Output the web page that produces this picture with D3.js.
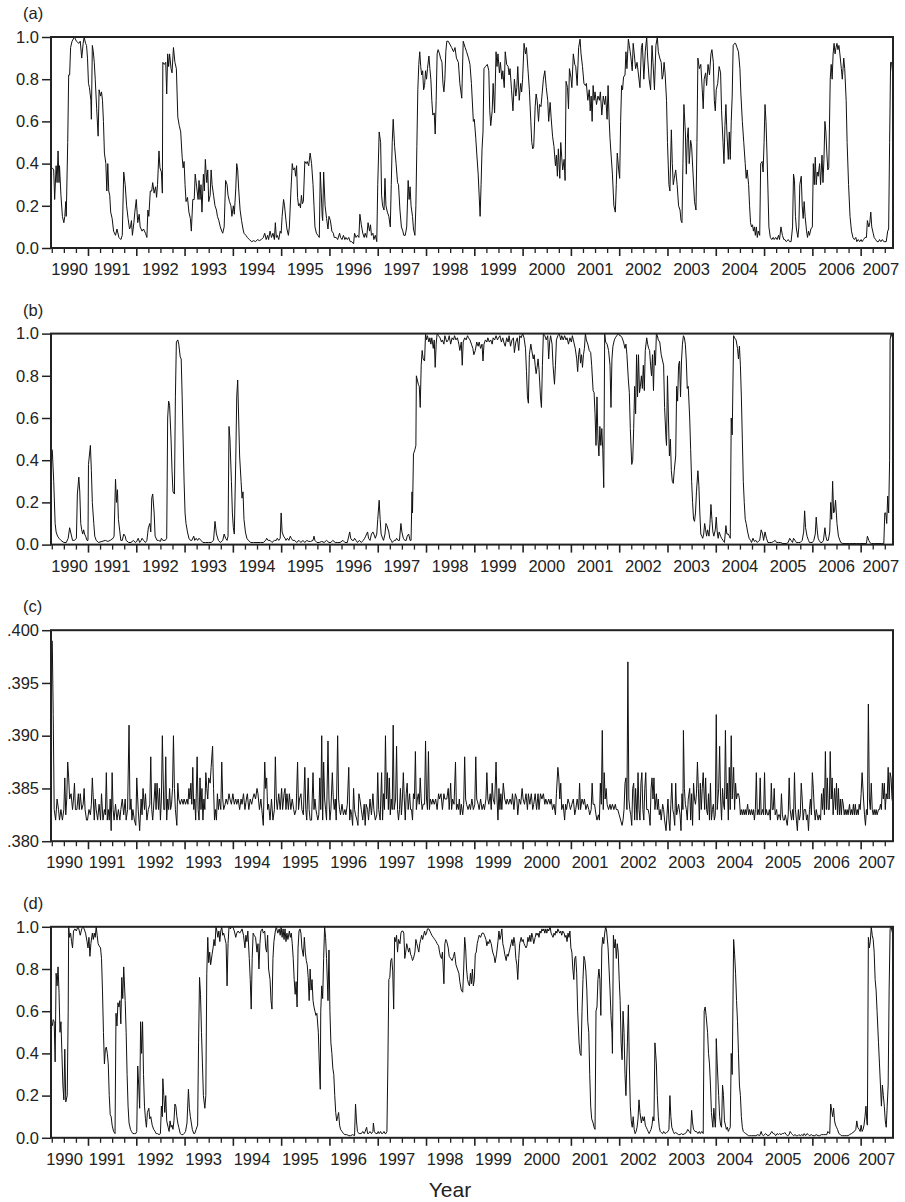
<!DOCTYPE html>
<html>
<head>
<meta charset="utf-8">
<script src="https://cdn.jsdelivr.net/npm/d3@7"></script>
<style>
  body { margin: 0; background: #fff; }
  svg text { font-family: "Liberation Sans", Arial, sans-serif; fill: #222; }
</style>
</head>
<body>
<div id="chart"></div>
<script>
// tick labels on the time axis
const yearLabels = d3.range(1990, 2008)

// (a) - values as [decimal year, value]
const seriesA = [
  [1990.26,.38],[1990.29,.37],[1990.31,.23],[1990.34,.39],[1990.36,.31],[1990.38,.46],[1990.40,.31],[1990.41,.39],[1990.44,.25],[1990.47,.15],[1990.50,.12],[1990.52,.15],[1990.54,.22],[1990.55,.15],[1990.58,.50],[1990.60,.82],[1990.62,.82],[1990.64,.95],[1990.67,.98],[1990.72,1.0],[1990.76,.98],[1990.81,.97],[1990.84,.98],[1990.87,.90],[1990.90,.97],[1990.92,1.0],[1990.95,.97],[1990.97,.96],[1990.99,.90],
  [1991.01,.78],[1991.03,.76],[1991.06,.70],[1991.07,.61],[1991.09,.96],[1991.11,.93],[1991.13,.88],[1991.15,.80],[1991.18,.66],[1991.21,.53],[1991.23,.75],[1991.26,.72],[1991.28,.74],[1991.30,.70],[1991.32,.60],[1991.34,.45],[1991.37,.40],[1991.39,.27],[1991.41,.40],[1991.43,.27],[1991.45,.25],[1991.47,.17],[1991.50,.14],[1991.53,.08],[1991.57,.06],[1991.60,.09],[1991.64,.05],[1991.68,.04],[1991.71,.06],[1991.74,.36],[1991.77,.30],[1991.80,.20],[1991.83,.14],[1991.86,.09],[1991.88,.10],[1991.90,.13],[1991.92,.06],[1991.95,.12],[1991.97,.17],
  [1992.00,.23],[1992.03,.12],[1992.06,.16],[1992.08,.10],[1992.12,.08],[1992.15,.09],[1992.19,.07],[1992.22,.05],[1992.24,.18],[1992.26,.15],[1992.29,.27],[1992.32,.27],[1992.34,.31],[1992.37,.26],[1992.40,.29],[1992.42,.24],[1992.44,.30],[1992.47,.46],[1992.49,.38],[1992.52,.36],[1992.54,.26],[1992.55,.88],[1992.58,.87],[1992.61,.88],[1992.63,.73],[1992.65,.92],[1992.67,.86],[1992.69,.92],[1992.72,.85],[1992.74,.83],[1992.77,.95],[1992.80,.88],[1992.83,.85],[1992.86,.62],[1992.89,.58],[1992.92,.55],[1992.95,.43],[1992.97,.38],[1992.99,.41],
  [1993.01,.30],[1993.03,.22],[1993.06,.24],[1993.09,.17],[1993.12,.14],[1993.14,.08],[1993.17,.23],[1993.20,.23],[1993.22,.35],[1993.25,.29],[1993.28,.23],[1993.30,.32],[1993.32,.23],[1993.34,.30],[1993.36,.17],[1993.39,.35],[1993.41,.27],[1993.43,.42],[1993.46,.31],[1993.48,.37],[1993.50,.22],[1993.53,.25],[1993.55,.37],[1993.57,.30],[1993.60,.25],[1993.63,.20],[1993.66,.18],[1993.68,.15],[1993.71,.13],[1993.74,.10],[1993.77,.08],[1993.79,.07],[1993.82,.10],[1993.85,.32],[1993.88,.30],[1993.90,.25],[1993.93,.22],[1993.96,.20],[1993.98,.15],
  [1994.01,.20],[1994.03,.16],[1994.06,.28],[1994.08,.40],[1994.10,.37],[1994.12,.28],[1994.15,.18],[1994.18,.13],[1994.21,.09],[1994.23,.07],[1994.27,.06],[1994.30,.05],[1994.34,.04],[1994.39,.03],[1994.43,.035],[1994.47,.03],[1994.51,.04],[1994.55,.035],[1994.59,.04],[1994.63,.05],[1994.66,.07],[1994.69,.04],[1994.72,.06],[1994.74,.04],[1994.77,.08],[1994.80,.05],[1994.83,.07],[1994.86,.04],[1994.88,.12],[1994.90,.05],[1994.92,.06],[1994.95,.04],[1994.98,.08],
  [1995.00,.07],[1995.02,.15],[1995.05,.23],[1995.07,.20],[1995.10,.13],[1995.12,.09],[1995.15,.06],[1995.17,.10],[1995.20,.26],[1995.23,.40],[1995.25,.37],[1995.28,.38],[1995.30,.34],[1995.32,.39],[1995.34,.24],[1995.36,.20],[1995.38,.21],[1995.40,.19],[1995.42,.25],[1995.44,.21],[1995.46,.22],[1995.49,.41],[1995.52,.40],[1995.54,.41],[1995.57,.39],[1995.60,.45],[1995.63,.40],[1995.66,.30],[1995.68,.20],[1995.70,.10],[1995.73,.07],[1995.76,.06],[1995.79,.05],[1995.81,.36],[1995.83,.26],[1995.85,.15],[1995.86,.13],[1995.88,.36],[1995.91,.20],[1995.94,.14],[1995.97,.09],[1995.99,.15],
  [1996.02,.13],[1996.05,.08],[1996.08,.07],[1996.10,.05],[1996.14,.05],[1996.17,.04],[1996.21,.07],[1996.23,.05],[1996.26,.04],[1996.29,.06],[1996.32,.04],[1996.34,.05],[1996.37,.04],[1996.40,.05],[1996.43,.03],[1996.46,.03],[1996.50,.02],[1996.52,.07],[1996.55,.05],[1996.58,.06],[1996.61,.05],[1996.63,.16],[1996.66,.11],[1996.69,.07],[1996.72,.05],[1996.74,.07],[1996.77,.05],[1996.80,.12],[1996.83,.08],[1996.85,.11],[1996.87,.06],[1996.90,.07],[1996.92,.04],[1996.95,.06],[1996.98,.03],
  [1997.00,.30],[1997.03,.55],[1997.06,.50],[1997.08,.25],[1997.10,.20],[1997.13,.18],[1997.15,.33],[1997.17,.20],[1997.20,.17],[1997.23,.15],[1997.26,.10],[1997.28,.30],[1997.30,.50],[1997.32,.61],[1997.35,.48],[1997.38,.40],[1997.41,.31],[1997.43,.30],[1997.46,.18],[1997.49,.10],[1997.52,.08],[1997.54,.06],[1997.57,.06],[1997.60,.10],[1997.63,.32],[1997.65,.23],[1997.67,.29],[1997.69,.20],[1997.72,.15],[1997.74,.09],[1997.77,.06],[1997.79,.20],[1997.81,.48],[1997.83,.75],[1997.85,.87],[1997.87,.93],[1997.89,.86],[1997.91,.82],[1997.93,.84],[1997.95,.75],[1997.97,.77],[1997.99,.84],
  [1998.01,.80],[1998.03,.85],[1998.06,.91],[1998.08,.85],[1998.10,.80],[1998.12,.70],[1998.14,.63],[1998.17,.64],[1998.19,.54],[1998.21,.70],[1998.23,.92],[1998.25,.94],[1998.28,.92],[1998.30,.90],[1998.33,.88],[1998.35,.78],[1998.37,.74],[1998.39,.80],[1998.41,.93],[1998.43,.98],[1998.46,.98],[1998.53,.95],[1998.57,.93],[1998.60,.95],[1998.63,.90],[1998.67,.88],[1998.70,.78],[1998.74,.71],[1998.77,.98],[1998.81,.95],[1998.84,.93],[1998.88,.90],[1998.91,.87],[1998.94,.78],[1998.98,.60],
  [1999.00,.61],[1999.03,.52],[1999.05,.45],[1999.08,.35],[1999.12,.15],[1999.14,.30],[1999.16,.47],[1999.18,.55],[1999.20,.85],[1999.23,.86],[1999.27,.87],[1999.30,.84],[1999.32,.65],[1999.34,.58],[1999.37,.65],[1999.39,.78],[1999.42,.64],[1999.45,.93],[1999.47,.86],[1999.49,.92],[1999.52,.83],[1999.54,.88],[1999.57,.80],[1999.59,.84],[1999.62,.76],[1999.64,.93],[1999.67,.87],[1999.70,.86],[1999.72,.82],[1999.74,.85],[1999.77,.75],[1999.80,.65],[1999.83,.80],[1999.86,.72],[1999.88,.76],[1999.90,.86],[1999.93,.70],[1999.96,.78],[1999.98,.74],
  [2000.00,.80],[2000.03,.97],[2000.06,.92],[2000.08,.95],[2000.11,.85],[2000.14,.75],[2000.17,.60],[2000.19,.50],[2000.21,.47],[2000.23,.48],[2000.26,.67],[2000.28,.73],[2000.30,.70],[2000.33,.60],[2000.35,.68],[2000.38,.67],[2000.40,.72],[2000.43,.80],[2000.46,.84],[2000.49,.76],[2000.52,.70],[2000.54,.60],[2000.57,.69],[2000.59,.62],[2000.62,.53],[2000.65,.48],[2000.68,.39],[2000.70,.44],[2000.72,.34],[2000.74,.47],[2000.77,.33],[2000.79,.50],[2000.81,.43],[2000.83,.37],[2000.86,.42],[2000.88,.32],[2000.90,.79],[2000.93,.76],[2000.95,.66],[2000.97,.85],
  [2001.00,.81],[2001.02,.76],[2001.05,.92],[2001.08,.87],[2001.10,.86],[2001.13,.77],[2001.16,.95],[2001.19,.99],[2001.21,.92],[2001.24,.86],[2001.27,.78],[2001.30,.77],[2001.32,.78],[2001.35,.70],[2001.38,.75],[2001.40,.65],[2001.42,.72],[2001.44,.60],[2001.46,.77],[2001.48,.70],[2001.50,.74],[2001.53,.68],[2001.56,.72],[2001.59,.70],[2001.61,.74],[2001.64,.63],[2001.67,.72],[2001.70,.68],[2001.72,.72],[2001.75,.61],[2001.77,.77],[2001.79,.62],[2001.81,.52],[2001.83,.45],[2001.86,.35],[2001.89,.20],[2001.92,.17],[2001.94,.30],[2001.96,.45],[2001.99,.37],
  [2002.01,.33],[2002.03,.60],[2002.05,.77],[2002.07,.75],[2002.09,.81],[2002.12,.82],[2002.14,.93],[2002.16,.85],[2002.19,.99],[2002.21,.96],[2002.24,.91],[2002.27,.84],[2002.29,.97],[2002.32,.90],[2002.34,.85],[2002.37,.88],[2002.40,.82],[2002.43,.76],[2002.46,.95],[2002.48,.97],[2002.51,.80],[2002.54,.93],[2002.57,1.0],[2002.59,.90],[2002.62,.80],[2002.65,.75],[2002.68,.96],[2002.70,.88],[2002.73,.75],[2002.76,.96],[2002.79,1.0],[2002.81,.93],[2002.84,.90],[2002.87,.88],[2002.89,.80],[2002.91,.82],[2002.93,.88],[2002.95,.83],[2002.98,.70],
  [2003.00,.50],[2003.03,.30],[2003.05,.27],[2003.08,.56],[2003.10,.40],[2003.12,.30],[2003.14,.33],[2003.17,.37],[2003.20,.30],[2003.23,.20],[2003.26,.18],[2003.28,.13],[2003.30,.12],[2003.32,.40],[2003.34,.68],[2003.37,.55],[2003.39,.35],[2003.41,.52],[2003.43,.57],[2003.45,.40],[2003.48,.51],[2003.50,.48],[2003.53,.35],[2003.56,.22],[2003.59,.18],[2003.61,.50],[2003.63,.90],[2003.66,.85],[2003.69,.87],[2003.72,.75],[2003.74,.66],[2003.76,.80],[2003.79,.83],[2003.81,.77],[2003.84,.87],[2003.87,.82],[2003.90,.92],[2003.92,.94],[2003.95,.88],[2003.97,.70],[2003.99,.65],
  [2004.01,.75],[2004.04,.78],[2004.07,.86],[2004.10,.83],[2004.12,.65],[2004.15,.50],[2004.17,.40],[2004.19,.58],[2004.21,.68],[2004.23,.55],[2004.26,.42],[2004.28,.55],[2004.30,.42],[2004.32,.60],[2004.34,.72],[2004.36,.96],[2004.39,.97],[2004.41,.97],[2004.44,.95],[2004.47,.93],[2004.50,.85],[2004.52,.73],[2004.55,.60],[2004.58,.50],[2004.61,.40],[2004.63,.33],[2004.65,.37],[2004.68,.30],[2004.70,.20],[2004.72,.12],[2004.74,.10],[2004.76,.11],[2004.78,.08],[2004.80,.10],[2004.82,.06],[2004.84,.10],[2004.86,.05],[2004.88,.08],[2004.91,.06],[2004.93,.40],[2004.96,.41],[2004.98,.36],
  [2005.00,.50],[2005.02,.68],[2005.04,.60],[2005.06,.45],[2005.08,.28],[2005.10,.10],[2005.13,.05],[2005.16,.04],[2005.19,.05],[2005.21,.04],[2005.24,.05],[2005.27,.04],[2005.30,.06],[2005.32,.04],[2005.35,.10],[2005.38,.06],[2005.41,.04],[2005.43,.04],[2005.46,.03],[2005.50,.04],[2005.53,.03],[2005.56,.03],[2005.59,.10],[2005.61,.35],[2005.63,.32],[2005.65,.15],[2005.67,.09],[2005.70,.05],[2005.72,.10],[2005.74,.30],[2005.77,.34],[2005.79,.20],[2005.81,.14],[2005.83,.22],[2005.85,.15],[2005.88,.08],[2005.90,.05],[2005.92,.08],[2005.94,.06],[2005.97,.09],
  [2006.00,.10],[2006.02,.40],[2006.04,.30],[2006.06,.43],[2006.08,.30],[2006.10,.36],[2006.12,.34],[2006.15,.40],[2006.17,.30],[2006.20,.44],[2006.22,.31],[2006.24,.42],[2006.26,.60],[2006.28,.55],[2006.30,.45],[2006.32,.37],[2006.34,.38],[2006.37,.80],[2006.39,.87],[2006.41,.80],[2006.43,.92],[2006.45,.97],[2006.47,.92],[2006.49,.95],[2006.51,.97],[2006.53,.94],[2006.55,.96],[2006.57,.92],[2006.60,.85],[2006.62,.80],[2006.65,.90],[2006.67,.85],[2006.70,.70],[2006.72,.50],[2006.75,.30],[2006.78,.15],[2006.81,.08],[2006.84,.05],[2006.87,.04],[2006.90,.05],[2006.92,.03],[2006.95,.04],[2006.98,.03],
  [2007.01,.04],[2007.03,.03],[2007.06,.04],[2007.09,.05],[2007.12,.05],[2007.14,.13],[2007.17,.10],[2007.19,.12],[2007.21,.17],[2007.23,.10],[2007.26,.07],[2007.28,.05],[2007.31,.04],[2007.34,.03],[2007.37,.03],[2007.39,.04],[2007.42,.03],[2007.45,.04],[2007.48,.03],[2007.50,.03],[2007.53,.03],[2007.56,.08],[2007.58,.09],[2007.60,.50],[2007.62,.88],[2007.64,.88],[2007.67,.81]
]

// (b)
const seriesB = [
  [1990.26,.45],[1990.29,.30],[1990.32,.10],[1990.34,.06],[1990.37,.04],[1990.40,.03],[1990.44,.02],[1990.50,.01],[1990.55,.01],[1990.59,.03],[1990.62,.08],[1990.65,.05],[1990.68,.02],[1990.72,.02],[1990.76,.03],[1990.78,.24],[1990.81,.32],[1990.83,.25],[1990.85,.10],[1990.87,.07],[1990.89,.05],[1990.91,.07],[1990.93,.05],[1990.95,.04],[1990.98,.02],
  [1991.00,.02],[1991.01,.38],[1991.05,.47],[1991.07,.35],[1991.09,.20],[1991.12,.10],[1991.14,.04],[1991.17,.02],[1991.22,.01],[1991.29,.015],[1991.36,.02],[1991.41,.015],[1991.46,.02],[1991.52,.03],[1991.54,.04],[1991.57,.31],[1991.59,.20],[1991.61,.26],[1991.63,.12],[1991.66,.06],[1991.68,.02],[1991.71,.02],[1991.74,.05],[1991.77,.04],[1991.79,.02],[1991.84,.01],[1991.89,.01],[1991.94,.02],[1991.98,.01],
  [1992.01,.015],[1992.04,.03],[1992.07,.01],[1992.10,.02],[1992.12,.03],[1992.15,.02],[1992.19,.01],[1992.22,.02],[1992.25,.08],[1992.28,.10],[1992.30,.06],[1992.32,.22],[1992.34,.24],[1992.37,.15],[1992.39,.04],[1992.43,.02],[1992.46,.02],[1992.50,.015],[1992.52,.03],[1992.55,.02],[1992.60,.02],[1992.63,.03],[1992.65,.60],[1992.67,.68],[1992.69,.66],[1992.72,.50],[1992.74,.35],[1992.76,.25],[1992.79,.24],[1992.81,.70],[1992.83,.96],[1992.86,.97],[1992.88,.95],[1992.91,.89],[1992.93,.88],[1992.95,.70],[1992.97,.50],[1992.99,.30],
  [1993.01,.15],[1993.03,.10],[1993.06,.06],[1993.09,.03],[1993.12,.02],[1993.15,.02],[1993.19,.04],[1993.21,.02],[1993.24,.03],[1993.27,.02],[1993.30,.03],[1993.34,.02],[1993.38,.01],[1993.43,.01],[1993.50,.01],[1993.55,.01],[1993.60,.02],[1993.63,.11],[1993.66,.05],[1993.70,.02],[1993.74,.01],[1993.79,.02],[1993.82,.05],[1993.85,.03],[1993.88,.02],[1993.90,.04],[1993.92,.56],[1993.94,.50],[1993.97,.30],[1993.99,.15],
  [1994.01,.08],[1994.03,.05],[1994.06,.40],[1994.08,.70],[1994.10,.78],[1994.12,.60],[1994.14,.42],[1994.17,.30],[1994.19,.22],[1994.21,.25],[1994.23,.12],[1994.26,.06],[1994.29,.03],[1994.32,.02],[1994.37,.01],[1994.43,.01],[1994.50,.01],[1994.57,.01],[1994.63,.01],[1994.68,.02],[1994.70,.03],[1994.73,.02],[1994.77,.02],[1994.81,.01],[1994.86,.02],[1994.90,.02],[1994.92,.03],[1994.95,.02],[1994.98,.03],
  [1995.00,.15],[1995.02,.06],[1995.05,.04],[1995.08,.03],[1995.10,.02],[1995.13,.03],[1995.16,.02],[1995.19,.04],[1995.21,.03],[1995.24,.02],[1995.28,.02],[1995.32,.01],[1995.37,.02],[1995.41,.01],[1995.45,.02],[1995.49,.01],[1995.53,.02],[1995.57,.015],[1995.61,.015],[1995.66,.02],[1995.68,.04],[1995.70,.02],[1995.74,.01],[1995.79,.01],[1995.84,.015],[1995.89,.01],[1995.94,.02],[1995.99,.01],
  [1996.03,.01],[1996.07,.02],[1996.12,.01],[1996.17,.01],[1996.22,.01],[1996.28,.02],[1996.32,.01],[1996.37,.01],[1996.42,.06],[1996.44,.03],[1996.47,.02],[1996.50,.02],[1996.52,.03],[1996.55,.02],[1996.58,.01],[1996.62,.02],[1996.66,.01],[1996.70,.02],[1996.73,.03],[1996.75,.04],[1996.77,.05],[1996.79,.06],[1996.81,.03],[1996.84,.02],[1996.87,.05],[1996.90,.06],[1996.92,.05],[1996.95,.03],[1996.98,.05],
  [1997.00,.12],[1997.03,.21],[1997.05,.12],[1997.07,.05],[1997.10,.03],[1997.12,.02],[1997.15,.05],[1997.17,.10],[1997.19,.09],[1997.23,.06],[1997.25,.03],[1997.28,.02],[1997.30,.01],[1997.34,.02],[1997.37,.02],[1997.39,.03],[1997.42,.02],[1997.45,.02],[1997.48,.10],[1997.50,.06],[1997.53,.03],[1997.56,.02],[1997.59,.02],[1997.61,.04],[1997.64,.05],[1997.67,.02],[1997.69,.02],[1997.71,.25],[1997.72,.15],[1997.74,.43],[1997.77,.45],[1997.79,.47],[1997.80,.80],[1997.82,.78],[1997.84,.76],[1997.86,.75],[1997.88,.65],[1997.90,.85],[1997.92,.92],[1997.94,.88],[1997.97,.87],[1997.99,1.0],
  [1998.01,.97],[1998.03,.99],[1998.06,.96],[1998.08,.98],[1998.10,.95],[1998.12,.98],[1998.15,.93],[1998.17,.97],[1998.19,.84],[1998.21,.95],[1998.23,1.0],[1998.26,.99],[1998.29,.98],[1998.32,.96],[1998.34,.97],[1998.37,.95],[1998.39,.99],[1998.43,.96],[1998.46,.97],[1998.48,.99],[1998.51,.95],[1998.54,.98],[1998.57,.97],[1998.59,.99],[1998.62,.97],[1998.65,.98],[1998.68,.95],[1998.70,.92],[1998.73,.96],[1998.75,.85],[1998.77,.96],[1998.80,.98],[1998.83,.97],[1998.86,.99],[1998.88,.98],[1998.91,.97],[1998.94,.95],[1998.97,.93],[1998.99,.90],
  [1999.02,.92],[1999.05,.96],[1999.08,.94],[1999.10,.96],[1999.13,.93],[1999.16,.95],[1999.18,.87],[1999.20,.95],[1999.23,.97],[1999.26,.96],[1999.28,.98],[1999.31,.96],[1999.34,.97],[1999.37,.95],[1999.39,.98],[1999.42,.97],[1999.45,.99],[1999.48,.97],[1999.50,.98],[1999.53,.99],[1999.56,.96],[1999.59,.98],[1999.61,.96],[1999.64,.94],[1999.67,.98],[1999.70,.96],[1999.72,.99],[1999.75,.94],[1999.78,.97],[1999.81,.98],[1999.83,.91],[1999.86,.96],[1999.89,.98],[1999.92,.92],[1999.94,.99],[1999.97,.98],
  [2000.00,1.0],[2000.03,.98],[2000.06,.93],[2000.08,.82],[2000.10,.70],[2000.12,.67],[2000.14,.90],[2000.17,.95],[2000.19,.92],[2000.22,.88],[2000.24,.90],[2000.26,.85],[2000.28,.81],[2000.30,.84],[2000.32,.88],[2000.34,.83],[2000.37,.70],[2000.39,.65],[2000.41,.85],[2000.43,1.0],[2000.46,.99],[2000.49,.97],[2000.52,.99],[2000.54,.88],[2000.56,.96],[2000.58,.99],[2000.61,.95],[2000.63,.85],[2000.66,.76],[2000.68,.85],[2000.70,.97],[2000.73,.99],[2000.76,1.0],[2000.79,.97],[2000.81,.99],[2000.84,.97],[2000.87,.99],[2000.90,.97],[2000.92,.98],[2000.95,.95],[2000.98,.98],
  [2001.01,.96],[2001.03,.99],[2001.06,.96],[2001.09,.93],[2001.12,.88],[2001.14,.82],[2001.16,.90],[2001.18,.93],[2001.20,.86],[2001.22,.90],[2001.24,.84],[2001.26,.90],[2001.28,.93],[2001.30,1.0],[2001.32,.97],[2001.35,.95],[2001.38,.92],[2001.41,.91],[2001.43,.85],[2001.46,.73],[2001.48,.72],[2001.50,.62],[2001.52,.47],[2001.54,.70],[2001.56,.50],[2001.58,.42],[2001.60,.56],[2001.62,.47],[2001.64,.55],[2001.66,.45],[2001.68,.27],[2001.70,1.0],[2001.72,.96],[2001.75,.95],[2001.78,.92],[2001.81,.85],[2001.83,.65],[2001.85,.88],[2001.87,.94],[2001.90,.97],[2001.92,.98],[2001.95,.99],[2001.98,1.0],
  [2002.01,.99],[2002.03,.99],[2002.06,.98],[2002.09,.96],[2002.12,.93],[2002.14,.95],[2002.16,.90],[2002.19,.78],[2002.21,.72],[2002.23,.55],[2002.26,.38],[2002.28,.40],[2002.30,.55],[2002.32,.75],[2002.34,.62],[2002.36,.90],[2002.38,.70],[2002.40,.90],[2002.42,.72],[2002.44,.75],[2002.46,.80],[2002.48,.74],[2002.50,.85],[2002.52,.73],[2002.54,.92],[2002.57,.98],[2002.59,.95],[2002.61,.93],[2002.63,.92],[2002.65,.85],[2002.67,.80],[2002.69,.90],[2002.71,.73],[2002.73,.92],[2002.75,.85],[2002.77,1.0],[2002.79,.99],[2002.81,.97],[2002.84,.96],[2002.87,.90],[2002.89,.88],[2002.92,.85],[2002.94,.65],[2002.97,.50],[2002.98,.47],
  [2003.00,.80],[2003.02,.60],[2003.04,.42],[2003.06,.50],[2003.08,.35],[2003.10,.30],[2003.12,.29],[2003.14,.35],[2003.17,.42],[2003.19,.75],[2003.21,.68],[2003.23,.85],[2003.25,.87],[2003.27,.70],[2003.29,.87],[2003.31,.95],[2003.33,.99],[2003.35,.98],[2003.37,.95],[2003.39,.87],[2003.41,.74],[2003.43,.75],[2003.46,.60],[2003.48,.45],[2003.50,.30],[2003.52,.20],[2003.54,.12],[2003.56,.11],[2003.58,.15],[2003.60,.25],[2003.63,.35],[2003.65,.28],[2003.67,.15],[2003.69,.05],[2003.71,.04],[2003.73,.03],[2003.75,.05],[2003.77,.10],[2003.79,.07],[2003.81,.04],[2003.83,.07],[2003.86,.04],[2003.88,.10],[2003.90,.19],[2003.92,.12],[2003.94,.06],[2003.96,.04],[2003.99,.07],
  [2004.01,.13],[2004.03,.06],[2004.05,.03],[2004.07,.06],[2004.10,.04],[2004.12,.03],[2004.15,.02],[2004.18,.01],[2004.21,.09],[2004.23,.05],[2004.26,.05],[2004.28,.04],[2004.30,.03],[2004.32,.60],[2004.34,.52],[2004.37,.99],[2004.39,.98],[2004.42,.97],[2004.45,.93],[2004.47,.88],[2004.49,.94],[2004.51,.85],[2004.53,.70],[2004.55,.50],[2004.57,.30],[2004.59,.20],[2004.61,.12],[2004.63,.10],[2004.66,.06],[2004.69,.03],[2004.72,.02],[2004.74,.01],[2004.77,.03],[2004.80,.015],[2004.83,.02],[2004.86,.01],[2004.88,.015],[2004.91,.02],[2004.94,.07],[2004.97,.05],[2004.99,.02],
  [2005.02,.06],[2005.05,.03],[2005.08,.01],[2005.12,.01],[2005.16,.01],[2005.20,.015],[2005.23,.02],[2005.26,.01],[2005.30,.01],[2005.34,.01],[2005.39,.005],[2005.46,.005],[2005.50,.01],[2005.53,.03],[2005.56,.02],[2005.59,.01],[2005.61,.03],[2005.64,.02],[2005.67,.01],[2005.71,.01],[2005.75,.01],[2005.79,.02],[2005.82,.06],[2005.84,.16],[2005.86,.08],[2005.89,.04],[2005.92,.02],[2005.94,.01],[2005.97,.01],
  [2006.00,.01],[2006.03,.02],[2006.06,.05],[2006.08,.13],[2006.10,.07],[2006.12,.03],[2006.14,.02],[2006.17,.01],[2006.20,.01],[2006.23,.02],[2006.26,.08],[2006.28,.04],[2006.30,.02],[2006.33,.02],[2006.36,.06],[2006.38,.20],[2006.40,.12],[2006.42,.30],[2006.44,.15],[2006.46,.16],[2006.48,.21],[2006.51,.10],[2006.54,.04],[2006.57,.02],[2006.59,.01],[2006.63,.005],[2006.70,.005],[2006.77,.005],[2006.84,.005],[2006.91,.005],[2006.98,.005],
  [2007.05,.005],[2007.12,.005],[2007.14,.04],[2007.17,.02],[2007.19,.01],[2007.22,.005],[2007.29,.005],[2007.36,.005],[2007.43,.005],[2007.48,.005],[2007.50,.15],[2007.52,.15],[2007.54,.10],[2007.56,.23],[2007.58,.15],[2007.60,.40],[2007.61,.97],[2007.63,1.0],[2007.66,.98],[2007.67,.94]
]

// (c)
const seriesC = [
  [1990.26,.399],[1990.28,.392],[1990.30,.383],[1990.33,.382],[1990.36,.384],[1990.39,.383],[1990.41,.382],[1990.44,.383],[1990.47,.382],[1990.50,.383],[1990.52,.386],[1990.54,.3825],[1990.56,.384],[1990.58,.3875],[1990.60,.386],[1990.62,.384],[1990.65,.3845],[1990.68,.383],[1990.70,.384],[1990.72,.3855],[1990.74,.383],[1990.77,.383],[1990.80,.3845],[1990.82,.383],[1990.84,.3845],[1990.87,.383],[1990.90,.3835],[1990.92,.385],[1990.94,.383],[1990.97,.382],[1990.99,.382],
  [1991.02,.383],[1991.05,.3825],[1991.07,.3835],[1991.09,.386],[1991.11,.384],[1991.13,.382],[1991.15,.384],[1991.17,.383],[1991.20,.382],[1991.23,.3835],[1991.26,.382],[1991.28,.3845],[1991.31,.382],[1991.34,.383],[1991.36,.3825],[1991.38,.3865],[1991.40,.382],[1991.42,.383],[1991.44,.382],[1991.46,.384],[1991.48,.381],[1991.50,.3865],[1991.52,.383],[1991.54,.382],[1991.57,.3835],[1991.60,.382],[1991.63,.383],[1991.66,.382],[1991.68,.383],[1991.71,.384],[1991.74,.3825],[1991.77,.384],[1991.79,.382],[1991.82,.383],[1991.85,.391],[1991.87,.383],[1991.89,.384],[1991.91,.382],[1991.93,.383],[1991.96,.382],[1991.99,.3815],
  [1992.01,.386],[1992.04,.383],[1992.07,.381],[1992.10,.384],[1992.12,.3825],[1992.14,.385],[1992.17,.383],[1992.19,.3845],[1992.22,.382],[1992.25,.383],[1992.28,.3835],[1992.30,.388],[1992.32,.383],[1992.34,.382],[1992.37,.384],[1992.39,.3855],[1992.41,.383],[1992.43,.3855],[1992.46,.383],[1992.48,.385],[1992.50,.382],[1992.52,.384],[1992.54,.390],[1992.57,.383],[1992.59,.383],[1992.61,.388],[1992.63,.382],[1992.65,.384],[1992.67,.383],[1992.69,.385],[1992.71,.383],[1992.73,.3835],[1992.75,.385],[1992.77,.390],[1992.79,.385],[1992.81,.383],[1992.84,.3815],[1992.86,.3855],[1992.88,.384],[1992.91,.3835],[1992.94,.384],[1992.97,.3835],[1992.99,.384],
  [1993.02,.3835],[1993.05,.384],[1993.07,.3835],[1993.09,.385],[1993.11,.384],[1993.13,.3855],[1993.15,.3835],[1993.17,.387],[1993.19,.383],[1993.21,.384],[1993.23,.382],[1993.26,.388],[1993.28,.383],[1993.30,.382],[1993.32,.386],[1993.34,.383],[1993.36,.385],[1993.38,.382],[1993.40,.384],[1993.42,.383],[1993.44,.3865],[1993.46,.385],[1993.48,.384],[1993.50,.386],[1993.53,.3855],[1993.55,.387],[1993.58,.389],[1993.60,.385],[1993.62,.382],[1993.64,.383],[1993.66,.382],[1993.68,.3845],[1993.70,.383],[1993.72,.384],[1993.75,.383],[1993.77,.3875],[1993.79,.384],[1993.81,.383],[1993.84,.3835],[1993.86,.384],[1993.89,.3835],[1993.92,.3845],[1993.94,.384],[1993.97,.3835],
  [1994.00,.3845],[1994.03,.3835],[1994.06,.384],[1994.08,.3835],[1994.11,.384],[1994.14,.383],[1994.17,.384],[1994.19,.3835],[1994.22,.3845],[1994.25,.383],[1994.28,.384],[1994.30,.3845],[1994.33,.383],[1994.36,.384],[1994.39,.3835],[1994.41,.384],[1994.44,.3845],[1994.47,.384],[1994.50,.385],[1994.52,.3845],[1994.55,.383],[1994.58,.384],[1994.61,.3825],[1994.63,.3815],[1994.66,.3875],[1994.68,.385],[1994.70,.386],[1994.72,.383],[1994.74,.3835],[1994.77,.382],[1994.80,.384],[1994.83,.382],[1994.86,.383],[1994.88,.388],[1994.90,.384],[1994.92,.383],[1994.95,.3845],[1994.98,.383],
  [1995.01,.385],[1995.03,.383],[1995.06,.3845],[1995.08,.385],[1995.10,.383],[1995.12,.3845],[1995.15,.383],[1995.17,.3845],[1995.20,.383],[1995.23,.384],[1995.26,.383],[1995.28,.3825],[1995.31,.383],[1995.34,.3875],[1995.36,.383],[1995.38,.384],[1995.41,.3845],[1995.43,.383],[1995.46,.3825],[1995.49,.387],[1995.51,.383],[1995.53,.382],[1995.56,.386],[1995.58,.383],[1995.60,.382],[1995.63,.382],[1995.66,.3865],[1995.68,.383],[1995.70,.384],[1995.72,.383],[1995.74,.3825],[1995.76,.382],[1995.78,.3825],[1995.80,.386],[1995.82,.383],[1995.84,.390],[1995.86,.382],[1995.88,.3875],[1995.90,.384],[1995.92,.383],[1995.94,.382],[1995.97,.3895],[1995.99,.384],
  [1996.01,.382],[1996.03,.383],[1996.06,.3865],[1996.08,.384],[1996.10,.383],[1996.12,.384],[1996.14,.382],[1996.17,.390],[1996.19,.384],[1996.21,.383],[1996.23,.3825],[1996.26,.3835],[1996.29,.3825],[1996.32,.383],[1996.34,.3825],[1996.37,.3835],[1996.40,.387],[1996.42,.382],[1996.44,.383],[1996.46,.3825],[1996.48,.3815],[1996.50,.385],[1996.52,.383],[1996.54,.3825],[1996.57,.382],[1996.59,.3815],[1996.61,.3845],[1996.63,.384],[1996.66,.383],[1996.69,.382],[1996.72,.3835],[1996.74,.3815],[1996.76,.3835],[1996.79,.383],[1996.81,.382],[1996.84,.384],[1996.87,.3825],[1996.90,.3845],[1996.92,.383],[1996.95,.382],[1996.98,.3825],
  [1997.00,.3865],[1997.02,.383],[1997.05,.382],[1997.08,.3865],[1997.10,.382],[1997.12,.3845],[1997.14,.383],[1997.16,.390],[1997.18,.384],[1997.20,.3865],[1997.22,.383],[1997.24,.386],[1997.26,.3825],[1997.28,.384],[1997.30,.383],[1997.32,.391],[1997.34,.383],[1997.37,.384],[1997.39,.389],[1997.41,.383],[1997.43,.382],[1997.45,.383],[1997.47,.385],[1997.49,.3825],[1997.51,.384],[1997.53,.3865],[1997.55,.384],[1997.57,.382],[1997.59,.3845],[1997.61,.3855],[1997.63,.383],[1997.66,.3845],[1997.68,.383],[1997.70,.383],[1997.72,.382],[1997.74,.3845],[1997.76,.384],[1997.78,.3885],[1997.80,.383],[1997.82,.384],[1997.84,.3845],[1997.86,.3835],[1997.88,.386],[1997.90,.384],[1997.92,.383],[1997.94,.3835],[1997.97,.3835],[1997.99,.3895],
  [1998.01,.384],[1998.03,.383],[1998.05,.3885],[1998.07,.383],[1998.09,.384],[1998.12,.3835],[1998.14,.384],[1998.17,.3835],[1998.20,.384],[1998.23,.383],[1998.26,.3845],[1998.28,.384],[1998.31,.3845],[1998.34,.383],[1998.37,.3845],[1998.39,.384],[1998.43,.384],[1998.46,.385],[1998.48,.383],[1998.51,.3855],[1998.53,.383],[1998.55,.384],[1998.58,.3835],[1998.61,.3875],[1998.63,.383],[1998.65,.3835],[1998.67,.383],[1998.69,.384],[1998.71,.3825],[1998.73,.3835],[1998.76,.3825],[1998.78,.3835],[1998.80,.388],[1998.82,.384],[1998.84,.3835],[1998.87,.383],[1998.90,.3835],[1998.92,.383],[1998.95,.384],[1998.98,.383],
  [1999.01,.3835],[1999.03,.388],[1999.05,.384],[1999.08,.3835],[1999.10,.383],[1999.13,.384],[1999.16,.383],[1999.19,.3835],[1999.21,.383],[1999.24,.384],[1999.26,.3865],[1999.28,.384],[1999.30,.3835],[1999.33,.3845],[1999.35,.383],[1999.37,.3855],[1999.39,.384],[1999.42,.3835],[1999.45,.3875],[1999.47,.384],[1999.49,.382],[1999.51,.385],[1999.53,.383],[1999.55,.3845],[1999.57,.383],[1999.60,.3855],[1999.63,.384],[1999.66,.3835],[1999.68,.384],[1999.71,.3835],[1999.74,.384],[1999.77,.3835],[1999.79,.3845],[1999.82,.383],[1999.85,.3845],[1999.88,.384],[1999.90,.3825],[1999.93,.384],[1999.96,.3835],[1999.99,.385],
  [2000.01,.384],[2000.04,.3835],[2000.07,.3845],[2000.10,.383],[2000.12,.3845],[2000.15,.3835],[2000.18,.3845],[2000.21,.383],[2000.23,.3835],[2000.26,.3845],[2000.29,.383],[2000.32,.3845],[2000.34,.383],[2000.37,.3845],[2000.40,.384],[2000.43,.3845],[2000.46,.3835],[2000.48,.384],[2000.51,.3835],[2000.54,.384],[2000.57,.3835],[2000.59,.384],[2000.62,.383],[2000.65,.3835],[2000.68,.3825],[2000.70,.3845],[2000.73,.387],[2000.75,.386],[2000.77,.384],[2000.79,.3855],[2000.81,.383],[2000.84,.3835],[2000.87,.382],[2000.89,.3835],[2000.91,.383],[2000.94,.384],[2000.97,.3835],[2000.99,.383],
  [2001.02,.3835],[2001.05,.384],[2001.08,.3825],[2001.10,.383],[2001.13,.384],[2001.16,.383],[2001.18,.3855],[2001.20,.383],[2001.23,.384],[2001.26,.3835],[2001.28,.384],[2001.31,.383],[2001.34,.3835],[2001.37,.383],[2001.39,.3825],[2001.42,.383],[2001.44,.3855],[2001.46,.3835],[2001.49,.3835],[2001.52,.3825],[2001.54,.382],[2001.57,.3825],[2001.59,.382],[2001.61,.3855],[2001.63,.3835],[2001.65,.3905],[2001.67,.383],[2001.69,.3865],[2001.71,.384],[2001.73,.385],[2001.75,.3835],[2001.78,.383],[2001.81,.3835],[2001.83,.383],[2001.86,.3835],[2001.89,.383],[2001.92,.3835],[2001.94,.383],[2001.97,.383],
  [2002.00,.3825],[2002.03,.382],[2002.06,.3815],[2002.08,.382],[2002.10,.383],[2002.12,.3855],[2002.14,.386],[2002.16,.383],[2002.18,.397],[2002.20,.384],[2002.22,.383],[2002.24,.3825],[2002.26,.3815],[2002.28,.385],[2002.30,.3855],[2002.32,.382],[2002.34,.385],[2002.37,.382],[2002.39,.3865],[2002.41,.383],[2002.43,.382],[2002.45,.3855],[2002.47,.3865],[2002.49,.383],[2002.51,.382],[2002.53,.385],[2002.55,.3865],[2002.57,.383],[2002.60,.383],[2002.62,.3825],[2002.64,.3815],[2002.66,.385],[2002.68,.386],[2002.70,.384],[2002.72,.386],[2002.74,.383],[2002.77,.3845],[2002.79,.383],[2002.81,.384],[2002.83,.3825],[2002.85,.383],[2002.87,.382],[2002.90,.3835],[2002.92,.383],[2002.94,.382],[2002.97,.381],[2002.99,.3825],
  [2003.01,.384],[2003.03,.382],[2003.05,.381],[2003.07,.3835],[2003.09,.3855],[2003.11,.383],[2003.13,.3825],[2003.15,.3815],[2003.17,.3855],[2003.19,.3825],[2003.21,.383],[2003.23,.3835],[2003.26,.3825],[2003.28,.381],[2003.30,.3845],[2003.32,.383],[2003.33,.3905],[2003.35,.385],[2003.37,.3835],[2003.39,.383],[2003.41,.382],[2003.43,.384],[2003.46,.385],[2003.48,.382],[2003.50,.3845],[2003.52,.3815],[2003.54,.3855],[2003.56,.384],[2003.58,.3835],[2003.60,.3845],[2003.62,.3875],[2003.64,.385],[2003.66,.382],[2003.68,.3855],[2003.70,.383],[2003.72,.385],[2003.74,.3865],[2003.77,.383],[2003.79,.386],[2003.81,.383],[2003.83,.3825],[2003.85,.3845],[2003.87,.382],[2003.89,.3855],[2003.91,.382],[2003.93,.383],[2003.95,.3835],[2003.97,.382],[2003.99,.3825],
  [2004.01,.392],[2004.03,.383],[2004.06,.385],[2004.08,.389],[2004.10,.384],[2004.12,.382],[2004.14,.385],[2004.16,.3835],[2004.18,.383],[2004.20,.3905],[2004.22,.384],[2004.24,.3855],[2004.26,.382],[2004.28,.387],[2004.30,.383],[2004.32,.390],[2004.34,.384],[2004.37,.387],[2004.39,.383],[2004.41,.3855],[2004.43,.384],[2004.45,.3845],[2004.47,.3845],[2004.49,.384],[2004.51,.3825],[2004.53,.383],[2004.55,.3825],[2004.57,.383],[2004.59,.3825],[2004.61,.383],[2004.63,.3825],[2004.66,.3835],[2004.68,.3825],[2004.70,.383],[2004.72,.3825],[2004.74,.383],[2004.76,.3825],[2004.78,.383],[2004.80,.382],[2004.82,.383],[2004.84,.3865],[2004.86,.3825],[2004.88,.383],[2004.90,.3825],[2004.92,.386],[2004.94,.3825],[2004.97,.383],[2004.99,.3825],
  [2005.01,.3865],[2005.03,.3825],[2005.05,.383],[2005.07,.3825],[2005.09,.3825],[2005.11,.383],[2005.13,.382],[2005.15,.3855],[2005.17,.383],[2005.19,.383],[2005.21,.385],[2005.23,.3825],[2005.26,.383],[2005.28,.382],[2005.30,.3825],[2005.32,.3825],[2005.34,.382],[2005.36,.3845],[2005.38,.3825],[2005.40,.382],[2005.42,.382],[2005.44,.3825],[2005.46,.382],[2005.48,.3815],[2005.50,.3825],[2005.52,.386],[2005.54,.383],[2005.57,.382],[2005.59,.383],[2005.61,.382],[2005.63,.3865],[2005.65,.383],[2005.67,.382],[2005.69,.381],[2005.71,.383],[2005.73,.382],[2005.75,.3825],[2005.77,.3855],[2005.79,.384],[2005.81,.382],[2005.83,.383],[2005.86,.383],[2005.88,.382],[2005.90,.3825],[2005.92,.381],[2005.94,.383],[2005.96,.384],[2005.98,.3825],
  [2006.00,.3865],[2006.02,.385],[2006.04,.383],[2006.06,.382],[2006.08,.383],[2006.10,.3825],[2006.12,.382],[2006.14,.3825],[2006.17,.382],[2006.19,.3845],[2006.21,.383],[2006.23,.385],[2006.25,.3825],[2006.27,.3885],[2006.29,.383],[2006.31,.386],[2006.33,.383],[2006.35,.383],[2006.37,.3885],[2006.39,.384],[2006.41,.386],[2006.43,.3825],[2006.46,.385],[2006.48,.383],[2006.50,.3855],[2006.52,.3825],[2006.54,.385],[2006.56,.3825],[2006.58,.384],[2006.60,.3825],[2006.62,.384],[2006.64,.3835],[2006.66,.3825],[2006.68,.383],[2006.70,.3825],[2006.72,.383],[2006.74,.3825],[2006.77,.3835],[2006.79,.3825],[2006.81,.383],[2006.83,.3825],[2006.85,.3835],[2006.87,.3825],[2006.89,.3835],[2006.91,.3825],[2006.93,.383],[2006.95,.3825],[2006.97,.3835],[2006.99,.383],
  [2007.01,.3845],[2007.03,.3865],[2007.06,.384],[2007.08,.3825],[2007.10,.3815],[2007.12,.383],[2007.14,.3825],[2007.16,.393],[2007.18,.384],[2007.20,.383],[2007.22,.3855],[2007.24,.383],[2007.26,.3825],[2007.28,.383],[2007.30,.3825],[2007.32,.383],[2007.34,.3825],[2007.37,.383],[2007.39,.383],[2007.41,.3835],[2007.43,.383],[2007.45,.3855],[2007.47,.384],[2007.49,.3855],[2007.51,.383],[2007.53,.3845],[2007.55,.384],[2007.57,.387],[2007.59,.384],[2007.61,.3865],[2007.63,.386],[2007.65,.384],[2007.67,.3835]
]

// (d)
const seriesD = [
  [1990.26,.53],[1990.28,.56],[1990.30,.55],[1990.32,.36],[1990.34,.78],[1990.36,.72],[1990.38,.81],[1990.40,.69],[1990.42,.50],[1990.44,.55],[1990.46,.40],[1990.48,.25],[1990.50,.18],[1990.52,.42],[1990.54,.17],[1990.57,.20],[1990.59,.60],[1990.60,1.0],[1990.62,.95],[1990.64,.97],[1990.66,.93],[1990.68,.90],[1990.70,.98],[1990.73,.99],[1990.76,.98],[1990.79,1.0],[1990.81,.99],[1990.84,.96],[1990.87,.99],[1990.90,1.0],[1990.92,.99],[1990.95,.97],[1990.98,.93],
  [1991.00,.90],[1991.02,.95],[1991.04,.86],[1991.06,.92],[1991.09,.97],[1991.11,.94],[1991.13,.97],[1991.15,.95],[1991.17,1.0],[1991.19,.96],[1991.21,.92],[1991.23,.91],[1991.26,.90],[1991.28,.85],[1991.30,.70],[1991.32,.50],[1991.34,.35],[1991.36,.42],[1991.38,.43],[1991.40,.40],[1991.42,.35],[1991.44,.20],[1991.46,.11],[1991.48,.10],[1991.50,.06],[1991.53,.03],[1991.56,.02],[1991.58,.59],[1991.60,.53],[1991.62,.64],[1991.64,.62],[1991.66,.65],[1991.68,.54],[1991.70,.76],[1991.72,.66],[1991.74,.81],[1991.77,.65],[1991.79,.50],[1991.81,.30],[1991.83,.15],[1991.85,.07],[1991.88,.04],[1991.90,.03],[1991.93,.02],[1991.96,.02],[1991.99,.02],
  [1992.01,.03],[1992.03,.34],[1992.05,.25],[1992.07,.14],[1992.09,.55],[1992.11,.40],[1992.13,.55],[1992.15,.30],[1992.17,.15],[1992.19,.09],[1992.21,.05],[1992.23,.12],[1992.26,.14],[1992.28,.09],[1992.30,.10],[1992.33,.06],[1992.36,.04],[1992.39,.03],[1992.41,.02],[1992.44,.02],[1992.47,.015],[1992.50,.02],[1992.52,.15],[1992.54,.10],[1992.55,.28],[1992.57,.20],[1992.59,.12],[1992.61,.20],[1992.63,.08],[1992.66,.05],[1992.68,.03],[1992.70,.08],[1992.72,.05],[1992.74,.06],[1992.76,.04],[1992.78,.08],[1992.80,.16],[1992.82,.15],[1992.84,.10],[1992.86,.07],[1992.88,.05],[1992.91,.02],[1992.94,.015],[1992.97,.015],[1992.99,.02],
  [1993.02,.03],[1993.05,.07],[1993.08,.23],[1993.10,.14],[1993.12,.10],[1993.14,.07],[1993.16,.04],[1993.19,.02],[1993.21,.02],[1993.24,.04],[1993.27,.06],[1993.29,.45],[1993.31,.76],[1993.33,.68],[1993.35,.50],[1993.37,.35],[1993.39,.20],[1993.42,.14],[1993.44,.20],[1993.46,.78],[1993.48,.95],[1993.50,.83],[1993.52,.88],[1993.54,.82],[1993.57,.87],[1993.59,.90],[1993.61,.94],[1993.63,.91],[1993.65,1.0],[1993.67,.98],[1993.69,.95],[1993.71,.98],[1993.73,.93],[1993.75,.98],[1993.77,1.0],[1993.79,.96],[1993.81,.97],[1993.83,.95],[1993.86,.92],[1993.88,.72],[1993.90,.92],[1993.92,1.0],[1993.95,.99],[1993.97,1.0],
  [1994.00,1.0],[1994.03,.98],[1994.06,.95],[1994.08,.97],[1994.11,.98],[1994.14,.97],[1994.17,.98],[1994.19,.99],[1994.22,.96],[1994.25,.90],[1994.27,.96],[1994.29,.93],[1994.31,.98],[1994.34,.85],[1994.36,.75],[1994.38,.61],[1994.40,.85],[1994.42,.97],[1994.44,.96],[1994.47,.95],[1994.50,.88],[1994.52,.92],[1994.54,.80],[1994.56,.92],[1994.58,.98],[1994.61,.99],[1994.63,.97],[1994.66,.98],[1994.68,.90],[1994.70,.88],[1994.72,.96],[1994.74,.80],[1994.77,.75],[1994.79,.65],[1994.81,.61],[1994.83,.85],[1994.85,.93],[1994.88,.98],[1994.90,1.0],[1994.93,.97],[1994.96,.99],[1994.98,.96],
  [1995.00,1.0],[1995.02,.95],[1995.04,.99],[1995.06,.94],[1995.08,.99],[1995.10,.93],[1995.12,.97],[1995.14,.94],[1995.17,.98],[1995.19,.95],[1995.21,.97],[1995.23,.92],[1995.25,.85],[1995.27,.75],[1995.29,.68],[1995.31,.74],[1995.33,.62],[1995.35,.90],[1995.37,.98],[1995.39,.99],[1995.41,.97],[1995.43,.90],[1995.46,.86],[1995.48,.95],[1995.50,.88],[1995.52,.84],[1995.54,.82],[1995.56,.76],[1995.58,.65],[1995.60,.80],[1995.62,.70],[1995.64,.75],[1995.66,.65],[1995.68,.62],[1995.70,.60],[1995.72,.58],[1995.74,.59],[1995.77,.50],[1995.79,.35],[1995.81,.23],[1995.82,.60],[1995.84,.72],[1995.86,.66],[1995.88,.85],[1995.90,1.0],[1995.92,.95],[1995.94,.85],[1995.97,.65],[1995.99,.89],
  [1996.01,.60],[1996.03,.45],[1996.05,.40],[1996.07,.33],[1996.09,.30],[1996.11,.20],[1996.13,.12],[1996.15,.08],[1996.17,.10],[1996.19,.12],[1996.21,.06],[1996.23,.04],[1996.26,.03],[1996.29,.02],[1996.32,.015],[1996.36,.015],[1996.40,.01],[1996.44,.01],[1996.48,.015],[1996.52,.01],[1996.54,.16],[1996.56,.08],[1996.58,.03],[1996.61,.02],[1996.63,.02],[1996.66,.02],[1996.69,.03],[1996.72,.02],[1996.74,.03],[1996.77,.05],[1996.79,.02],[1996.81,.02],[1996.84,.03],[1996.87,.02],[1996.90,.03],[1996.91,.07],[1996.93,.03],[1996.96,.02],[1996.99,.02],
  [1997.01,.03],[1997.03,.02],[1997.06,.03],[1997.08,.02],[1997.10,.02],[1997.13,.03],[1997.15,.02],[1997.17,.02],[1997.19,.03],[1997.21,.35],[1997.23,.75],[1997.25,.76],[1997.27,.84],[1997.29,.85],[1997.31,.79],[1997.33,.61],[1997.35,.95],[1997.37,.93],[1997.39,.96],[1997.41,.88],[1997.43,.94],[1997.46,.92],[1997.48,.97],[1997.50,.98],[1997.52,.98],[1997.54,.97],[1997.56,.85],[1997.58,.88],[1997.60,.92],[1997.62,.90],[1997.64,.88],[1997.66,.90],[1997.68,.87],[1997.70,.86],[1997.72,.84],[1997.74,.85],[1997.77,.88],[1997.79,.94],[1997.81,.92],[1997.83,.90],[1997.85,.88],[1997.87,.92],[1997.89,.94],[1997.91,.96],[1997.93,.94],[1997.95,.96],[1997.97,.98],[1997.99,.96],
  [1998.01,.97],[1998.03,.99],[1998.06,.99],[1998.08,.98],[1998.10,.97],[1998.12,.96],[1998.15,.95],[1998.18,.94],[1998.21,.93],[1998.23,.92],[1998.26,.91],[1998.28,.88],[1998.30,.86],[1998.32,.85],[1998.34,.88],[1998.37,.73],[1998.39,.92],[1998.41,.94],[1998.43,.93],[1998.46,.90],[1998.48,.86],[1998.51,.85],[1998.54,.84],[1998.57,.86],[1998.59,.88],[1998.62,.82],[1998.65,.80],[1998.68,.78],[1998.70,.74],[1998.73,.70],[1998.76,.69],[1998.78,.80],[1998.80,.95],[1998.82,.90],[1998.84,.80],[1998.86,.75],[1998.88,.73],[1998.90,.72],[1998.92,.78],[1998.94,.73],[1998.96,.80],[1998.98,.72],
  [1999.00,.75],[1999.02,.87],[1999.04,.88],[1999.06,.92],[1999.08,.94],[1999.10,.96],[1999.13,.95],[1999.16,.97],[1999.19,.97],[1999.21,.96],[1999.24,.94],[1999.26,.91],[1999.28,.93],[1999.30,.92],[1999.32,.94],[1999.35,.92],[1999.38,.88],[1999.41,.86],[1999.43,.83],[1999.46,.87],[1999.49,.93],[1999.51,.98],[1999.53,.94],[1999.55,.96],[1999.57,.99],[1999.59,.92],[1999.61,.90],[1999.63,.87],[1999.66,.84],[1999.68,.87],[1999.70,.86],[1999.72,.88],[1999.74,.90],[1999.76,.92],[1999.78,.94],[1999.80,.91],[1999.82,.95],[1999.84,.92],[1999.86,.85],[1999.88,.82],[1999.90,.75],[1999.92,.85],[1999.94,.92],[1999.97,.95],[1999.99,.93],
  [2000.01,.94],[2000.03,.92],[2000.05,.91],[2000.07,.90],[2000.09,.91],[2000.11,.95],[2000.13,.93],[2000.15,.96],[2000.17,.93],[2000.19,.97],[2000.21,.95],[2000.23,.92],[2000.26,.95],[2000.28,.97],[2000.30,.96],[2000.32,.97],[2000.34,.95],[2000.36,.98],[2000.38,.97],[2000.40,.99],[2000.42,.98],[2000.44,.99],[2000.46,.97],[2000.48,.99],[2000.50,.97],[2000.52,.99],[2000.54,.98],[2000.57,1.0],[2000.59,.97],[2000.61,.96],[2000.63,.95],[2000.65,.97],[2000.67,.96],[2000.69,.98],[2000.71,.97],[2000.73,.99],[2000.75,.98],[2000.77,.97],[2000.79,.98],[2000.81,.96],[2000.83,.98],[2000.86,.97],[2000.88,.95],[2000.90,.96],[2000.92,.93],[2000.94,.97],[2000.96,.95],[2000.98,.98],
  [2001.00,.90],[2001.02,.88],[2001.04,.80],[2001.06,.75],[2001.08,.85],[2001.10,.86],[2001.12,.78],[2001.14,.60],[2001.17,.45],[2001.19,.40],[2001.21,.39],[2001.23,.60],[2001.25,.75],[2001.27,.86],[2001.29,.84],[2001.31,.79],[2001.33,.70],[2001.35,.55],[2001.37,.50],[2001.39,.30],[2001.41,.15],[2001.43,.09],[2001.46,.07],[2001.48,.05],[2001.50,.04],[2001.52,.60],[2001.54,.62],[2001.56,.75],[2001.58,.80],[2001.60,.75],[2001.62,.58],[2001.64,.90],[2001.66,.95],[2001.68,.92],[2001.70,.97],[2001.72,1.0],[2001.74,.98],[2001.77,.90],[2001.79,.80],[2001.81,.70],[2001.83,.58],[2001.85,.50],[2001.86,.40],[2001.88,.96],[2001.90,.90],[2001.92,.94],[2001.94,.85],[2001.96,.92],[2001.98,.88],
  [2002.00,.75],[2002.02,.65],[2002.04,.45],[2002.06,.37],[2002.08,.60],[2002.10,.50],[2002.12,.30],[2002.14,.20],[2002.17,.45],[2002.19,.63],[2002.21,.35],[2002.23,.15],[2002.25,.08],[2002.27,.05],[2002.29,.10],[2002.31,.04],[2002.33,.02],[2002.35,.03],[2002.37,.05],[2002.39,.09],[2002.41,.18],[2002.43,.12],[2002.46,.07],[2002.48,.10],[2002.50,.08],[2002.52,.10],[2002.54,.06],[2002.56,.05],[2002.58,.04],[2002.60,.03],[2002.62,.02],[2002.64,.03],[2002.66,.04],[2002.68,.06],[2002.70,.10],[2002.72,.08],[2002.74,.45],[2002.77,.35],[2002.79,.20],[2002.81,.10],[2002.83,.05],[2002.85,.03],[2002.87,.025],[2002.90,.02],[2002.92,.03],[2002.95,.02],[2002.98,.025],
  [2003.01,.03],[2003.03,.04],[2003.05,.20],[2003.07,.10],[2003.09,.05],[2003.12,.03],[2003.14,.02],[2003.17,.025],[2003.20,.02],[2003.23,.015],[2003.26,.015],[2003.29,.02],[2003.32,.015],[2003.36,.02],[2003.39,.025],[2003.42,.04],[2003.45,.03],[2003.48,.02],[2003.50,.13],[2003.52,.07],[2003.54,.04],[2003.57,.03],[2003.60,.03],[2003.63,.02],[2003.66,.03],[2003.68,.02],[2003.71,.03],[2003.74,.02],[2003.76,.60],[2003.78,.62],[2003.80,.58],[2003.83,.50],[2003.85,.40],[2003.87,.35],[2003.89,.25],[2003.91,.12],[2003.93,.07],[2003.94,.05],[2003.96,.14],[2003.99,.05],
  [2004.00,.10],[2004.01,.47],[2004.03,.35],[2004.06,.20],[2004.08,.10],[2004.10,.06],[2004.12,.05],[2004.14,.25],[2004.16,.20],[2004.18,.08],[2004.20,.06],[2004.22,.04],[2004.24,.05],[2004.26,.03],[2004.28,.04],[2004.30,.05],[2004.32,.40],[2004.34,.30],[2004.37,.94],[2004.39,.87],[2004.41,.78],[2004.43,.65],[2004.45,.55],[2004.47,.40],[2004.49,.25],[2004.51,.20],[2004.53,.10],[2004.55,.05],[2004.57,.03],[2004.59,.025],[2004.62,.02],[2004.65,.015],[2004.68,.01],[2004.70,.01],[2004.74,.01],[2004.79,.01],[2004.83,.01],[2004.87,.015],[2004.91,.01],[2004.94,.03],[2004.96,.015],[2004.99,.01],
  [2005.03,.02],[2005.08,.01],[2005.12,.015],[2005.16,.03],[2005.19,.02],[2005.21,.02],[2005.24,.01],[2005.27,.02],[2005.30,.015],[2005.32,.02],[2005.35,.015],[2005.38,.02],[2005.41,.02],[2005.43,.025],[2005.46,.015],[2005.49,.01],[2005.52,.015],[2005.54,.03],[2005.57,.02],[2005.59,.015],[2005.61,.01],[2005.64,.015],[2005.67,.01],[2005.70,.01],[2005.72,.015],[2005.75,.01],[2005.78,.015],[2005.81,.01],[2005.83,.02],[2005.86,.01],[2005.89,.02],[2005.92,.015],[2005.94,.01],[2005.98,.015],
  [2006.01,.01],[2006.05,.01],[2006.08,.015],[2006.12,.01],[2006.15,.01],[2006.19,.015],[2006.23,.015],[2006.28,.015],[2006.30,.015],[2006.32,.03],[2006.36,.02],[2006.38,.16],[2006.40,.13],[2006.42,.10],[2006.44,.14],[2006.46,.08],[2006.48,.06],[2006.50,.05],[2006.52,.04],[2006.55,.02],[2006.58,.015],[2006.61,.01],[2006.63,.01],[2006.67,.01],[2006.70,.01],[2006.74,.01],[2006.77,.015],[2006.81,.02],[2006.84,.025],[2006.87,.03],[2006.90,.04],[2006.92,.08],[2006.94,.05],[2006.97,.04],[2006.99,.03],
  [2007.01,.06],[2007.03,.03],[2007.05,.04],[2007.07,.06],[2007.09,.10],[2007.11,.15],[2007.13,.07],[2007.14,.06],[2007.16,.95],[2007.18,.90],[2007.20,.93],[2007.22,1.0],[2007.24,.96],[2007.26,.94],[2007.28,.88],[2007.30,.75],[2007.32,.70],[2007.34,.60],[2007.37,.45],[2007.39,.35],[2007.41,.25],[2007.43,.15],[2007.45,.25],[2007.47,.20],[2007.49,.15],[2007.51,.08],[2007.53,.05],[2007.55,.15],[2007.57,.25],[2007.59,.70],[2007.61,.99],[2007.63,1.0],[2007.66,.97],[2007.67,.96]
]

const ticks01 = [0, 0.2, 0.4, 0.6, 0.8, 1.0]
const ticksC = [0.380, 0.385, 0.390, 0.395, 0.400]

async function init() {
    const width = 905
    const height = 1202
    const left = 51
    const right = 893
    const firstTop = 37
    const step = 296.6
    const plotH = 211

    const svg = d3.select('#chart')
        .append('svg')
        .attr('width', width)
        .attr('height', height)

    // time axis shared by all four panels
    const xScale = d3.scaleLinear()
        .domain([1990.234, 2007.67])
        .range([left, right])
    const [t0, t1] = xScale.domain()

    const majorTicks = d3.range(1991, 2008)
    const minorTicks = d3.range(1990.25, t1, 0.25).filter(t => t % 1 !== 0)

    const fmt01 = d3.format('.1f')
    const fmtC = d => d3.format('.3f')(d).replace(/^0/, '')

    const panels = [
        { label: '(a)', data: seriesA, domain: [0, 1], ticks: ticks01, fmt: fmt01, shift: 0, lastShift: 4 },
        { label: '(b)', data: seriesB, domain: [0, 1], ticks: ticks01, fmt: fmt01, shift: 0, lastShift: 4 },
        { label: '(c)', data: seriesC, domain: [0.38, 0.40], ticks: ticksC, fmt: fmtC, shift: -5, lastShift: 0 },
        { label: '(d)', data: seriesD, domain: [0, 1], ticks: ticks01, fmt: fmt01, shift: -5, lastShift: 0 }
    ]

    panels.forEach((p, i) => {
        const top = firstTop + i * step
        const bottom = top + plotH

        const yScale = d3.scaleLinear()
            .domain(p.domain)
            .range([bottom, top])

        const g = svg.append('g').attr('class', 'panel')

        g.append('clipPath')
            .attr('id', `clip${i}`)
            .append('rect')
            .attr('x', left)
            .attr('y', top)
            .attr('width', right - left)
            .attr('height', plotH)

        const line = d3.line()
            .x(d => xScale(d[0]))
            .y(d => yScale(d[1]))

        g.append('path')
            .datum(p.data)
            .attr('clip-path', `url(#clip${i})`)
            .attr('fill', 'none')
            .attr('stroke', '#111')
            .attr('stroke-width', 1)
            .attr('d', line)

        // frame
        g.append('rect')
            .attr('x', left)
            .attr('y', top)
            .attr('width', right - left)
            .attr('height', plotH)
            .attr('fill', 'none')
            .attr('stroke', '#222')
            .attr('stroke-width', 2)

        // y axis
        const yAxis = g.append('g')
            .attr('transform', `translate(${left}, 0)`)
            .call(d3.axisLeft(yScale).tickValues(p.ticks).tickSize(9).tickPadding(3).tickFormat(p.fmt))
        yAxis.select('.domain').remove()
        yAxis.selectAll('line').attr('stroke', '#222').attr('stroke-width', 1.5)
        yAxis.selectAll('text')
            .attr('font-size', 16.5)
            .attr('font-family', '"Liberation Sans", Arial, sans-serif')
            .attr('fill', '#222')

        // x axis: years and quarters
        const xMajor = g.append('g')
            .attr('transform', `translate(0, ${bottom})`)
            .call(d3.axisBottom(xScale).tickValues(majorTicks).tickSize(8).tickFormat(''))
        xMajor.select('.domain').remove()
        xMajor.selectAll('line').attr('stroke', '#222').attr('stroke-width', 1.6)

        const xMinor = g.append('g')
            .attr('transform', `translate(0, ${bottom})`)
            .call(d3.axisBottom(xScale).tickValues(minorTicks).tickSize(5).tickFormat(''))
        xMinor.select('.domain').remove()
        xMinor.selectAll('line').attr('stroke', '#222').attr('stroke-width', 1.3)

        g.selectAll('text.year')
            .data(yearLabels)
            .enter()
            .append('text')
            .attr('class', 'year')
            .attr('x', (d, j) => {
                const lo = Math.max(d, t0)
                const hi = Math.min(d + 1, t1)
                const extra = j === yearLabels.length - 1 ? p.lastShift : p.shift
                return xScale((lo + hi) / 2) + extra
            })
            .attr('y', bottom + 27)
            .attr('text-anchor', 'middle')
            .attr('font-size', 16.5)
            .text(d => d)

        g.append('text')
            .attr('x', 23)
            .attr('y', top - 18)
            .attr('font-size', 16.5)
            .text(p.label)
    })

    svg.append('text')
        .attr('x', 450)
        .attr('y', 1197)
        .attr('text-anchor', 'middle')
        .attr('font-size', 21)
        .text('Year')
}

init()
</script>
</body>
</html>
